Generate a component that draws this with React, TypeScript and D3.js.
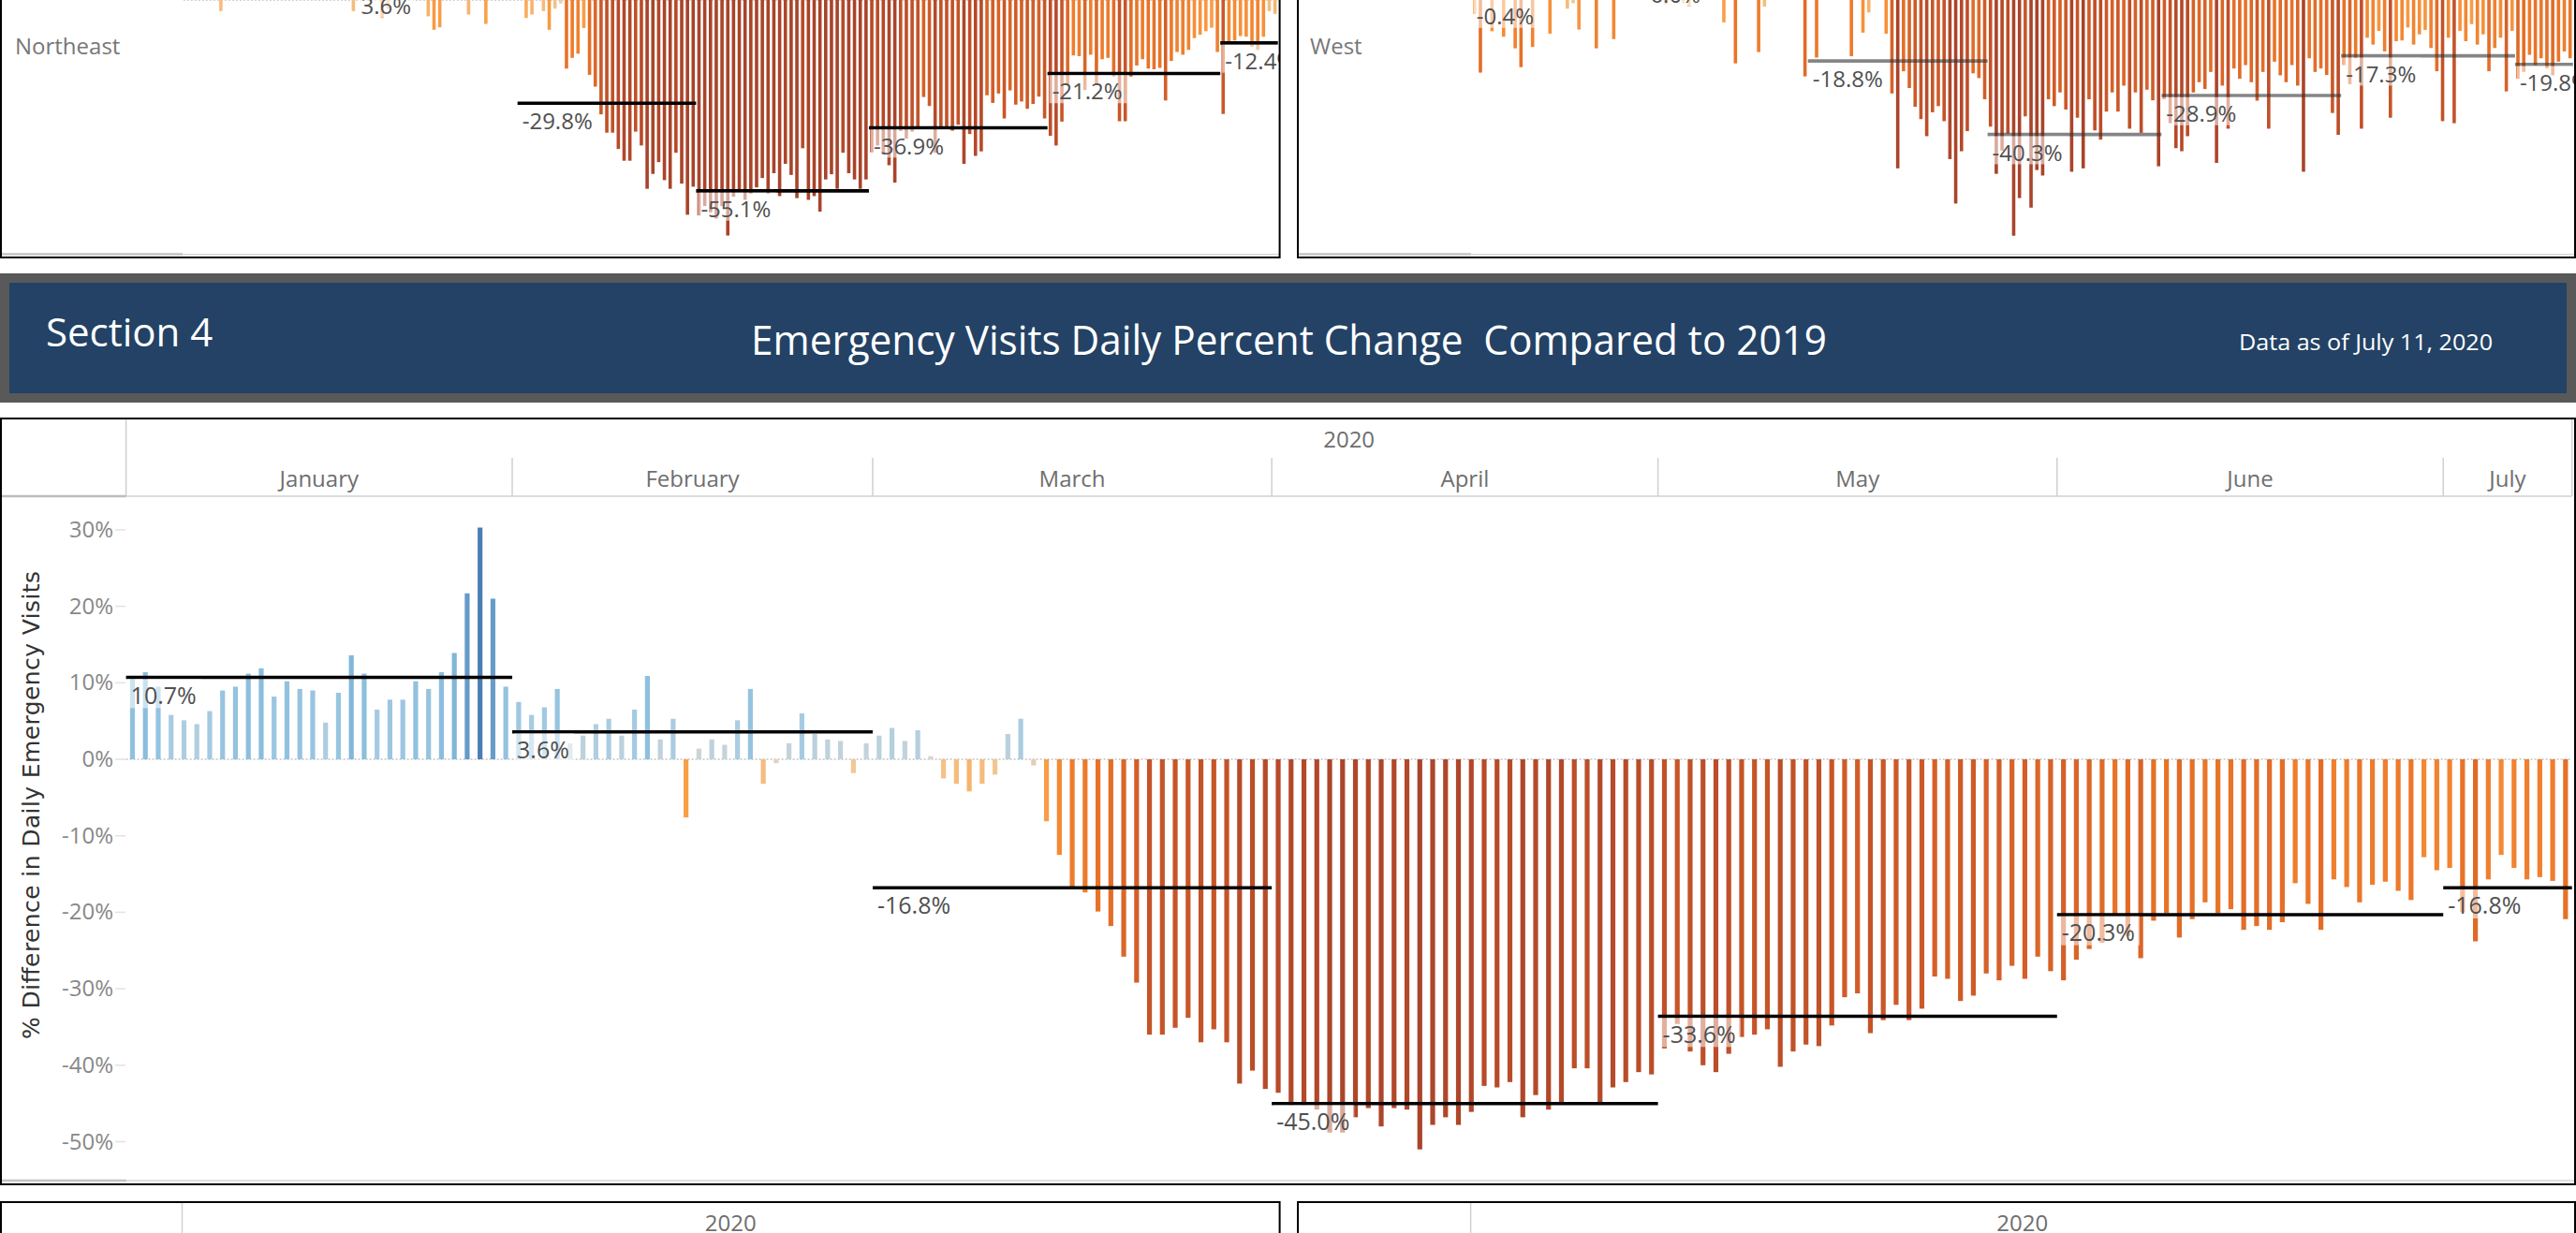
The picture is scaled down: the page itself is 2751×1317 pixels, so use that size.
import * as d3 from "d3";

const W = 2751;
const H = 1317;

// one bar per day; Feb 29 and Jan 1 have no 2019 match, so they are not in the view
const monthNames = ["January", "February", "March", "April", "May", "June", "July"];
const barsPerMonth = [30, 28, 31, 30, 31, 30, 10];

// national daily % difference (Section 4)
const nationalPct = [
  // Jan
  10.5, 11.4, 9.5, 5.8, 5.1, 4.6, 6.3, 9.0, 9.5, 11.2, 11.9, 8.2, 10.2, 9.2, 9.0,
  4.8, 8.7, 13.6, 11.2, 6.5, 7.8, 7.8, 10.2, 9.2, 11.4, 13.9, 21.7, 30.3, 21.0, 9.5,
  // Feb
  7.5, 5.8, 6.8, 9.2, 2.1, 3.1, 4.6, 5.3, 3.1, 6.5, 10.9, 2.6, 5.3, -7.6,
  1.4, 2.6, 1.9, 5.1, 9.2, -3.2, -0.5, 2.1, 6.0, 3.3, 2.6, 2.4, -1.8, 2.1,
  // Mar
  3.1, 4.1, 2.4, 3.8, 0.4, -2.5, -3.2, -4.2, -3.2, -2.0, 3.3, 5.3, -0.8, -8.1, -12.5, -16.7,
  -17.4, -19.9, -21.8, -25.8, -29.2, -36.0, -36.0, -35.1, -33.8, -37.0, -35.3, -37.0, -42.4, -40.7, -43.1,
  // Apr
  -43.6, -45.2, -45.2, -45.8, -48.8, -48.8, -46.8, -45.6, -48.0, -45.6, -45.8, -51.0, -47.8, -46.8, -47.8,
  -46.1, -42.7, -42.9, -42.2, -46.8, -43.9, -45.8, -45.0, -40.4, -40.4, -45.0, -42.9, -42.2, -40.9, -41.2,
  // May
  -37.8, -34.6, -38.2, -40.0, -40.9, -38.5, -36.3, -36.0, -35.3, -40.2, -38.2, -37.3, -37.5, -34.8, -31.1, -30.6,
  -35.8, -34.1, -32.1, -34.1, -32.6, -28.4, -28.7, -31.6, -30.9, -28.0, -28.9, -27.0, -28.7, -25.8, -27.7,
  // Jun
  -28.9, -26.2, -24.8, -24.0, -20.2, -23.1, -26.0, -21.1, -20.1, -23.3, -20.9, -18.7, -20.1, -19.6, -22.3,
  -21.8, -22.3, -21.3, -16.2, -18.9, -22.3, -15.7, -16.7, -18.7, -16.4, -16.0, -17.2, -18.4, -12.8, -14.5,
  // Jul
  -14.2, -20.0, -23.8, -15.7, -12.5, -14.2, -15.7, -15.4, -15.9, -20.9,
];
const nationalMonthAvg = [10.7, 3.6, -16.8, -45.0, -33.6, -20.3, -16.8];

// Northeast panel (only the lower part is in view)
const northeastPct = [
  8.5, 10.2, 7.1, 4.3, 6.8, 9.4, -3.2, 5.6, 8.8, 11.5, 9.7, 6.2, 7.9, 10.8, 8.1,
  3.9, 7.4, 12.6, 9.3, 5.2, 6.7, 7.0, 9.1, 8.4, 10.3, 12.9, 18.4, 24.6, 15.8, -3.2,
  2.8, 7.2, 8.6, 4.4, -5.2, -2.5, 6.9, 8.1, 5.4, 9.6, 6.2, 7.7, -4.7, -8.6,
  -7.9, 6.3, 8.8, 3.1, 5.4, -4.2, 7.5, 9.3, -6.9, 4.0, 8.2, 7.9, 6.8, 6.6,
  1.0, -5.2, -4.2, 0.5, -3.2, -8.6, -2.5, -1.0, -19.8, -16.7, -15.5, -8.1, -21.6, -25.0, -33.0, -38.3,
  -38.3, -43.0, -46.4, -46.4, -38.0, -42.0, -54.5, -50.2, -46.8, -52.0, -54.5, -44.1, -53.0, -62.0, -53.9,
  -62.2, -59.5, -61.3, -63.1, -59.5, -68.0, -56.8, -55.1, -57.7, -55.9, -54.1, -51.4, -55.9, -50.0, -56.6,
  -47.3, -50.5, -57.2, -42.8, -57.7, -56.6, -61.1, -51.8, -50.3, -54.5, -44.1, -50.0, -51.8, -54.5, -51.8,
  -44.0, -42.0, -44.6, -47.7, -52.7, -37.8, -40.0, -38.0, -37.0, -28.0, -30.6, -44.1, -37.0, -37.0, -37.7, -36.0,
  -47.3, -38.7, -45.0, -43.7, -27.5, -29.7, -27.0, -34.2, -26.1, -30.2, -29.3, -31.4, -30.0, -27.9, -34.2,
  -39.2, -42.0, -35.1, -24.5, -16.0, -16.2, -26.0, -15.8, -24.3, -17.1, -16.7, -22.1, -35.0, -35.0, -22.1,
  -18.9, -17.1, -19.8, -20.0, -19.6, -29.0, -17.6, -15.0, -15.8, -14.4, -11.0, -10.0, -9.0, -8.0, -15.0,
  -32.9, -12.6, -11.7, -10.4, -10.6, -13.5, -14.4, -10.6, -3.2, -4.0,
];
const northeastMonthAvg = [8.7, 3.6, -29.8, -55.1, -36.9, -21.2, -12.4];

// West panel
const westPct = [
  -5.1, -22.2, 6.5, -10.1, 8.2, -11.7, 7.4, -15.1, -20.6, 9.8, -14.7, 8.5, 8.9, -10.8, 5.2,
  9.0, -3.5, -1.9, -9.6, 10.4, 8.7, -15.1, 9.5, 5.8, -12.4, 9.1, 6.6, 8.9, 10.3, 8.0,
  11.5, 13.2, 10.8, -2.3, 12.7, 14.1, -1.9, -2.9, 11.9, 13.5, 10.2, 12.8, 15.3, -7.5,
  11.1, -19.5, 12.4, 13.8, 10.6, -16.2, -2.9, 11.7, 12.9, 14.6, 10.9, 12.2, 13.3, -23.3,
  8.0, -17.8, 9.5, 7.2, 10.1, 6.4, 8.8, -17.4, 7.9, -10.5, -4.6, 5.5, 6.8, -10.8, -28.3, -50.2,
  -21.8, -26.7, -32.2, -35.8, -40.8, -33.8, -32.0, -36.4, -47.5, -60.5, -45.2, -39.3, -22.4, -23.8, -30.0,
  -38.0, -51.8, -45.0, -40.0, -69.9, -58.9, -35.0, -61.7, -50.7, -52.3, -30.0, -32.0, -28.0, -33.0, -51.2,
  -35.4, -50.2, -30.0, -39.1, -41.8, -33.6, -28.0, -33.6, -26.0, -38.6, -28.0, -39.8, -27.2, -30.3, -49.6,
  -30.0, -37.0, -44.3, -45.2, -40.8, -28.0, -25.0, -27.0, -22.0, -48.6, -26.0, -38.6, -21.0, -24.0, -20.0, -25.0,
  -30.4, -22.0, -38.6, -19.0, -23.0, -25.0, -20.0, -26.0, -51.2, -18.0, -22.0, -21.0, -22.9, -34.0, -40.4,
  -20.0, -25.6, -18.0, -38.6, -12.0, -14.0, -10.0, -16.0, -35.4, -13.0, -12.8, -9.0, -14.0, -11.0, -9.7,
  -15.0, -21.8, -36.4, -12.0, -37.0, -10.0, -13.0, -8.0, -14.0, -11.0, -21.8, -15.0, -12.0, -27.7, -10.0,
  -24.0, -22.0, -17.0, -20.0, -18.0, -21.0, -23.0, -19.0, -16.0, -18.0,
];
const westMonthAvg = [-0.4, 6.0, -18.8, -40.3, -28.9, -17.3, -19.8];

const yTicks = [30, 20, 10, 0, -10, -20, -30, -40, -50];

const monthStart = barsPerMonth.map((_, i) => d3.sum(barsPerMonth.slice(0, i)));
const nDays = d3.sum(barsPerMonth);

const color = d3
  .scaleLinear<string>()
  .domain([-50, -40, -30, -20, -12, -6, -2, 0, 2, 6, 12, 20, 30])
  .range(["#a9442a", "#bd4e28", "#d15d28", "#e87228", "#f58a33", "#fba650", "#f2c690",
    "#dcd5cb", "#c4d3da", "#a5cbe2", "#88bddd", "#6a9fcc", "#4b7fb3"])
  .clamp(true);

const FONT = "'Open Sans', 'Noto Sans', sans-serif";

// rough Open Sans advance widths, for the label backgrounds
const textWidth = (s: string, size: number) =>
  d3.sum(s.split(""), (c) => (c === "." ? 0.266 : c === "-" ? 0.322 : c === "%" ? 0.823 : 0.572)) * size;

const fmt = (v: number) => `${v.toFixed(1)}%`;

type PanelProps = {
  values: number[];
  avgs: number[];
  x: d3.ScaleBand<number>;
  y: d3.ScaleLinear<number, number>;
  barW: number;
  lineColor: string;
  lineOpacity: number;
  lineW: number;
  fontSize: number;
  clip: string;
};

const DailyBars = ({ values, avgs, x, y, barW, lineColor, lineOpacity, lineW, fontSize, clip }: PanelProps) => {
  const y0 = y(0);
  return (
    <g clipPath={`url(#${clip})`}>
      <line x1={x.range()[0]} x2={x.range()[1]} y1={y0} y2={y0} stroke="#c4c4c4" strokeWidth={1.5} strokeDasharray="2,2" />
      {values.map((v, i) => (
        <rect
          key={i}
          x={x(i)! + (x.bandwidth() - barW) / 2}
          y={Math.min(y(v), y0)}
          width={barW}
          height={Math.abs(y(v) - y0)}
          fill={color(v)}
        />
      ))}
      {avgs.map((a, m) => {
        const x0 = x(monthStart[m])!;
        const x1 = x(monthStart[m] + barsPerMonth[m] - 1)! + x.bandwidth();
        const ly = y(a);
        const label = fmt(a);
        const tw = textWidth(label, fontSize);
        return (
          <g key={m}>
            <line x1={x0} x2={x1} y1={ly} y2={ly} stroke={lineColor} strokeOpacity={lineOpacity} strokeWidth={lineW} />
            <rect x={x0 + 2} y={ly + lineW / 2} width={tw + 8} height={fontSize + 6} fill="#fff" fillOpacity={0.55} />
            <text x={x0 + 5} y={ly + 28} fontFamily={FONT} fontSize={fontSize} fill="#505050">
              {label}
            </text>
          </g>
        );
      })}
    </g>
  );
};

const App = () => {
  const days = d3.range(nDays);

  const xMain = d3.scaleBand<number>().domain(days).range([134.6, 2746.7]);
  const yMain = d3.scaleLinear().domain([-55.2, 34.4]).range([1262, 530]);

  const xNE = d3.scaleBand<number>().domain(days).range([195.9, 1364.7]);
  const yNE = d3.scaleLinear().domain([0, -70]).range([0, 259]);

  const xW = d3.scaleBand<number>().domain(days).range([1571.7, 2747.8]);
  const yW = d3.scaleLinear().domain([0, -70]).range([-3.5, -3.5 + 255.6]);

  const monthEdges = monthStart.map((s) => xMain(s)!);

  return (
    <>
      <style>{"body{margin:0;overflow:hidden;background:#fff}"}</style>
      <svg width={W} height={H} style={{ display: "block" }}>
        <defs>
          <clipPath id="clipNE"><rect x={2} y={0} width={1364} height={272} /></clipPath>
          <clipPath id="clipW"><rect x={1387} y={0} width={1364} height={272} /></clipPath>
          <clipPath id="clipMain"><rect x={2} y={531} width={2746} height={731} /></clipPath>
        </defs>
        <rect width={W} height={H} fill="#fff" />

        {/* top panels: Northeast / West */}
        <text x={16} y={58} fontFamily={FONT} fontSize={24} fill="#777">Northeast</text>
        <text x={1399} y={58} fontFamily={FONT} fontSize={24} fill="#777">West</text>
        <DailyBars values={northeastPct} avgs={northeastMonthAvg} x={xNE} y={yNE} barW={3.6}
          lineColor="#000" lineOpacity={1} lineW={3.6} fontSize={24} clip="clipNE" />
        <DailyBars values={westPct} avgs={westMonthAvg} x={xW} y={yW} barW={3.6}
          lineColor="#333" lineOpacity={0.6} lineW={3.6} fontSize={24} clip="clipW" />
        <line x1={2} x2={1366} y1={271.7} y2={271.7} stroke="#d6d6d6" strokeWidth={1.5} />
        <line x1={2} x2={195} y1={271.5} y2={271.5} stroke="#c4c4c4" strokeWidth={2.5} />
        <line x1={1387} x2={2750} y1={271.7} y2={271.7} stroke="#d6d6d6" strokeWidth={1.5} />
        <line x1={1387} x2={1571} y1={271.5} y2={271.5} stroke="#c4c4c4" strokeWidth={2.5} />
        <path d="M1,0V275H1366.6V0" fill="none" stroke="#000" strokeWidth={2} />
        <path d="M1386,0V275H2750V0" fill="none" stroke="#000" strokeWidth={2} />

        {/* banner */}
        <rect x={0} y={292} width={W} height={138} fill="#595959" />
        <rect x={10} y={302} width={2731} height={118} fill="#234265" />
        <text x={49} y={370} fontFamily={FONT} fontSize={42} fill="#fff">Section 4</text>
        <text x={802} y={379} fontFamily={FONT} fontSize={43} fill="#fff" textLength={1149} lengthAdjust="spacingAndGlyphs"
          style={{ whiteSpace: "pre" }}>
          {"Emergency Visits Daily Percent Change  Compared to 2019"}
        </text>
        <text x={2391} y={374} fontFamily={FONT} fontSize={24} fill="#fff" textLength={271} lengthAdjust="spacingAndGlyphs">
          Data as of July 11, 2020
        </text>

        {/* main chart frame and header */}
        <line x1={134.6} x2={134.6} y1={447} y2={530} stroke="#d0d0d0" strokeWidth={1.5} />
        <line x1={2746.7} x2={2746.7} y1={447} y2={530} stroke="#d0d0d0" strokeWidth={1.5} />
        {monthEdges.slice(1).map((mx, i) => (
          <line key={i} x1={mx} x2={mx} y1={489} y2={530} stroke="#d0d0d0" strokeWidth={1.5} />
        ))}
        <line x1={134.6} x2={2746.7} y1={530} y2={530} stroke="#d0d0d0" strokeWidth={1.5} />
        <line x1={2} x2={134.6} y1={530} y2={530} stroke="#bdbdbd" strokeWidth={2.5} />
        <text x={(134.6 + 2746.7) / 2} y={478} textAnchor="middle" fontFamily={FONT} fontSize={24} fill="#6e6e6e">2020</text>
        {monthNames.map((name, m) => {
          const a = xMain(monthStart[m])!;
          const b = xMain(monthStart[m] + barsPerMonth[m] - 1)! + xMain.bandwidth();
          return (
            <text key={name} x={(a + b) / 2} y={520} textAnchor="middle" fontFamily={FONT} fontSize={24} fill="#6e6e6e">
              {name}
            </text>
          );
        })}

        {/* y axis */}
        {yTicks.map((t) => (
          <g key={t}>
            <line x1={123} x2={134} y1={yMain(t)} y2={yMain(t)} stroke="#e2e2e2" strokeWidth={1.5} />
            <text x={121} y={yMain(t) + 8} textAnchor="end" fontFamily={FONT} fontSize={24} fill="#888">
              {`${t}%`}
            </text>
          </g>
        ))}
        <text
          transform="translate(42,860) rotate(-90)"
          textAnchor="middle"
          fontFamily="'DejaVu Sans', Verdana, sans-serif"
          fontSize={25}
          fill="#333"
          textLength={500}
          lengthAdjust="spacing"
        >
          % Difference in Daily Emergency Visits
        </text>

        <DailyBars values={nationalPct} avgs={nationalMonthAvg} x={xMain} y={yMain} barW={5.2}
          lineColor="#000" lineOpacity={1} lineW={3.5} fontSize={25} clip="clipMain" />

        <line x1={2} x2={2749} y1={1261} y2={1261} stroke="#d6d6d6" strokeWidth={1.5} />
        <line x1={2} x2={135} y1={1261} y2={1261} stroke="#c4c4c4" strokeWidth={2.5} />
        <rect x={1} y={447} width={2749} height={818} fill="none" stroke="#000" strokeWidth={2} />

        {/* bottom panels, only their headers are in view */}
        <path d="M1,1318V1284H1366.6V1318" fill="none" stroke="#000" strokeWidth={2} />
        <path d="M1386,1318V1284H2750V1318" fill="none" stroke="#000" strokeWidth={2} />
        <line x1={194.5} x2={194.5} y1={1285} y2={1317} stroke="#d0d0d0" strokeWidth={1.5} />
        <line x1={1570.6} x2={1570.6} y1={1285} y2={1317} stroke="#d0d0d0" strokeWidth={1.5} />
        <text x={(195.9 + 1364.7) / 2} y={1315} textAnchor="middle" fontFamily={FONT} fontSize={24} fill="#6e6e6e">2020</text>
        <text x={(1571.7 + 2747.8) / 2} y={1315} textAnchor="middle" fontFamily={FONT} fontSize={24} fill="#6e6e6e">2020</text>
      </svg>
    </>
  );
};

export default App;
